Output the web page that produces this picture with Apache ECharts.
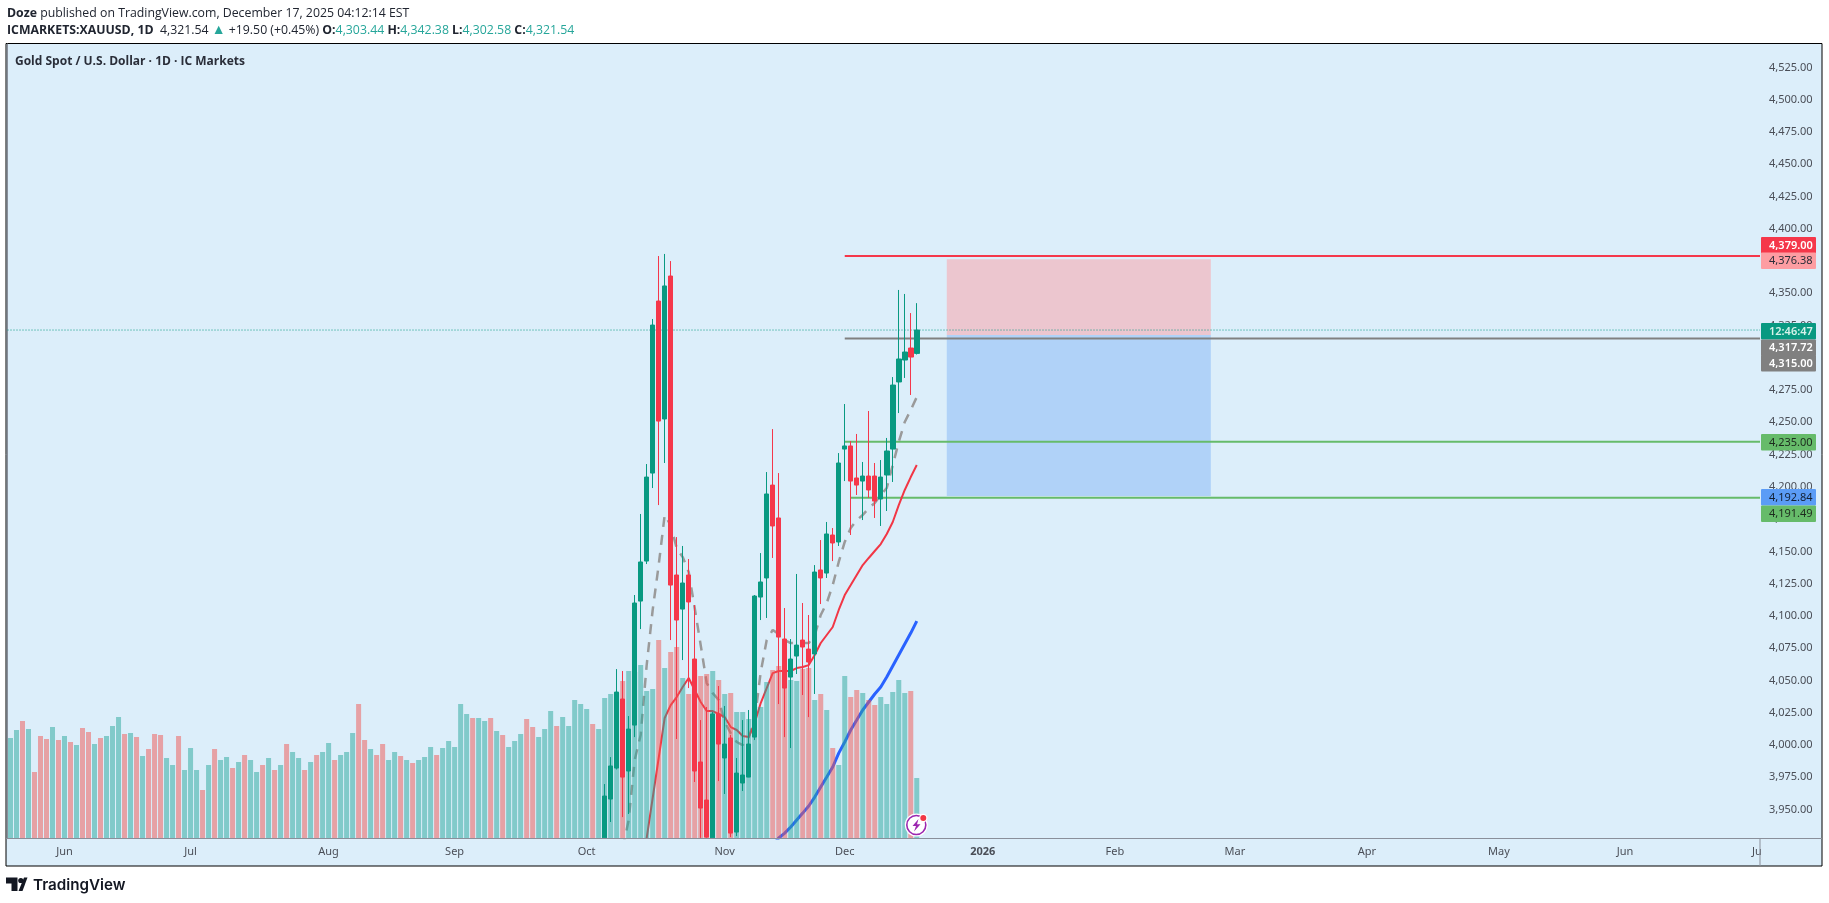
<!DOCTYPE html>
<html><head><meta charset="utf-8">
<style>html,body{margin:0;padding:0;background:#fff}#c{width:1829px;height:903px}</style>
<script src="https://cdn.jsdelivr.net/npm/echarts@6/dist/echarts.min.js"></script>
</head><body><div id="c"></div>
<script>
// ---------- data ----------
const firstSession = '2025-05-20';
const sessionCount = 292;
const monthTickIndex = [9,30,53,74,96,119,139,162,184,204,226,248,269,291];
const monthTickLabels = ['Jun','Jul','Aug','Sep','Oct','Nov','Dec','2026','Feb','Mar','Apr','May','Jun','Ju'];
const priceTicks = [4525,4500,4475,4450,4425,4400,4375,4350,4325,4300,4275,4250,4225,4200,4175,4150,4125,4100,4075,4050,4025,4000,3975,3950];

const volumes = [100,108,117,109,66,102,99,111,98,102,96,93,110,106,94,100,102,112,121,104,105,101,82,89,104,103,80,73,102,68,
 90,68,48,73,89,78,81,70,76,83,78,66,73,80,68,73,94,86,80,68,76,83,86,95,78,83,86,105,134,98,
 89,83,94,78,86,82,78,75,78,81,91,83,90,97,91,134,124,120,120,117,120,107,103,91,97,104,119,111,101,109,
 127,112,121,112,138,134,129,114,109,140,144,145,157,167,166,173,147,149,198,170,186,191,160,144,168,162,164,167,158,144,
 145,126,126,119,131,131,156,168,172,168,158,157,169,170,138,144,128,90,73,162,141,148,145,138,133,141,134,146,158,145,147,60];
const volumeSides = 'TTPTPPPTPTPTPPTPTTTPTPTPPPTTPTTTPTPTTPTPTTPTPTPTTPTPTTPTTTPPTPPTTPTPTTTPTTTTTPTTPTPTTTPPTTTPTTTTTPTTTTPTTTTTPTPPTPPPPTPTPTTTTTTPPPTTPPTPTPTTPPTPPTTTTTPT'.split('');

const candleFirstIndex = 99;
// open, close, low, high
const candles = [
[3928,3960.4,3928,3969.7],[3958.1,3983.7,3940.3,3990.6],[3982.1,4041,3981,4058.8],[4035.6,3975.1,3944.1,4057.3],
[3979.8,4012.3,3946.5,4022.4],[4015.4,4110,4006.1,4116.2],[4111.5,4141.8,4089.8,4179],[4142.5,4207.6,4140.2,4217.7],
[4210.7,4325.4,4199.1,4330.1],[4344,4251,4185.9,4378.9],[4252.6,4355.7,4218.5,4380.5],[4363.4,4123.9,4081.3,4375],
[4131.7,4096.8,4004.6,4161.1],[4105.3,4125.5,4065.8,4154.2],[4131.7,4110.8,4044.1,4144.1],[4066.6,3979.8,3971.3,4108.4],
[3986.8,3951.1,3928,4019.3],[3957.3,3928.6,3928,4029.4],[3928,4024,3928,4025.5],[4024,4000.7,3972,4045.7],
[3989.9,4000.7,3962,4030.2],[4005.4,3931.7,3928.6,4007.7],[3932.5,3978.2,3929.4,3989.9],[3970.5,3976.7,3964.3,4019.3],
[3975.1,4000.7,3975,4027.1],[4006.1,4115.4,4003.8,4116.2],[4114.6,4126.3,4096.8,4148.7],[4129.4,4194.5,4098.4,4211.5],
[4201.4,4169.7,4144.9,4244.8],[4175.9,4083.6,4031.7,4210.7],[4082.1,4044.1,4006.1,4106.1],[4052.6,4066.6,3997.6,4082.1],
[4068.9,4077.4,4055,4132.5],[4081.3,4075.9,4038.7,4110],[4074.3,4064.3,4021.6,4100.7],[4070.5,4134,4039.5,4139.4],
[4135.6,4129.4,4109.2,4158.8],[4133.2,4163.5,4129.4,4172.8],[4162.7,4156.5,4142.5,4168.1],[4157.3,4218.5,4154.2,4226.2],
[4229.3,4231.7,4204.5,4264.2],[4231.7,4204.5,4162.7,4235.5],[4206.9,4201.4,4193.7,4241],[4204.5,4208.4,4174.3,4219.3],
[4208.4,4197.6,4191.4,4258.8],[4208.4,4189,4175.9,4218.5],[4190.6,4207.6,4169.7,4220.8],[4209.2,4227.8,4181.3,4237.9],
[4229.3,4278.9,4203.8,4285.1],[4281.3,4299.1,4257.2,4352.6],[4298.3,4304.5,4284.4,4349.5],[4307.6,4300.6,4271.2,4334.7],
[4303.44,4321.54,4302.58,4342.38]];

const redMaFirstIndex = 105;
const redMa = [3897,3927.9,3958.9,3989.9,4020.9,4030.9,4037.1,4044.9,4051.9,4042.6,4033.3,4026.3,4026.3,4024,4021.6,4013.9,4011.6,
 4006.9,4006.1,4017,4032.5,4044.1,4055.7,4057.3,4057.3,4057.3,4059.6,4060.4,4061.9,4069.7,4079,4085.2,4091.4,4104.6,4116.2,4123.9,
 4131.7,4139.4,4144.9,4150.3,4155.7,4163.5,4172.8,4185.9,4197.6,4207.6,4216.9];
const blueMaFirstIndex = 127;
const blueMa = [3922,3927.9,3931.7,3936.4,3941.8,3947.2,3952.7,3959.6,3967.4,3975.1,3982.9,3993.7,4002.3,4011.6,4019.3,4027.1,4033.3,
 4039.5,4044.9,4052.6,4061.2,4069.7,4078.2,4086.7,4096];
const grayMaFirstIndex = 102;
const grayMa = [3920.1,3941.8,3988.3,4007.7,4061.9,4104.6,4139.4,4178.2,4170.4,4152.6,4145.6,4134,4106.1,4077.4,4048,4040.2,4034.8,
 4017.8,4009.2,4002.3,3999.9,4006.1,4019.3,4056.5,4081.3,4089.1,4086,4081.3,4079,4079,4079,4079,4085.2,4100.7,4110,4123.9,4141.8,
 4157.3,4168.1,4174.3,4178.2,4183.6,4187.5,4193.7,4199.1,4216.9,4234.8,4250.3,4259.6,4269.6];

const lastPrice = 4321.54;
const stopLevel = 4379.00;
const entryLevel = 4315.00;
const target1Level = 4235.00;
const target2Level = 4191.49;
const positionTop = 4376.38, positionEntry = 4317.72, positionBottom = 4192.84;
const positionStartIndex = 156, positionEndIndex = 200;
const levelStartIndex = 139, level2StartIndex = 140;

const headline = 'Doze';
const headlineRest = ' published on TradingView.com, December 17, 2025 04:12:14 EST';
const symbolLine = 'ICMARKETS:XAUUSD, 1D';
const chartTitle = 'Gold Spot / U.S. Dollar · 1D · IC Markets';
const tagTexts = ['4,379.00','4,376.38','12:46:47','4,317.72','4,315.00','4,235.00','4,192.84','4,191.49'];

// ---------- styles / layout ----------
const UP='#089981', DOWN='#f5374a', BG='#dceefa', AXIS='#8a8f9a';
const FONT='"Noto Sans", sans-serif', HEAD='"Open Sans", sans-serif';
const HS=12.3;
const gridLeft=7.5, gridRight=1760, gridTop=44, gridBottom=838, frameRight=1822, frameBottom=866, frameLeft=6;
const priceMin=3927.9, priceMax=4543.2;
const tagStyle=[
 {top:237,fill:DOWN,color:'#fff',bold:true},
 {top:252.5,fill:'#fd9da2',color:'#2a2e39'},
 {top:323,fill:UP,color:'#d7f2ea',bold:true},
 {top:339.5,fill:'#808080',color:'#fff',bold:true},
 {top:355,fill:'#808080',color:'#fff',bold:true},
 {top:434,fill:'#66bb6a',color:'#1d2b1e'},
 {top:489,fill:'#5b9cf6',color:'#132033'},
 {top:505.5,fill:'#66bb6a',color:'#1d2b1e'}];

// ---------- build ----------
const categories=[];
{ let d=new Date(firstSession+'T00:00:00Z');
  while(categories.length<sessionCount){
    const w=d.getUTCDay();
    if(w!==0&&w!==6) categories.push(d.toISOString().slice(0,10));
    d=new Date(d.getTime()+86400000);
  } }
const monthByCategory={};
monthTickIndex.forEach((k,i)=>{monthByCategory[categories[k]]=monthTickLabels[i];});
const pad=(first,arr)=>new Array(first).fill('-').concat(arr);
const band=k=>k+0.5;
const hLine=(name,y,from,color,width,type)=>({
  type:'line',name,xAxisIndex:1,yAxisIndex:0,z:1,symbol:'none',silent:true,animation:false,
  data:[[from,y],[sessionCount,y]],lineStyle:{color,width,type:type||'solid'}});
const fmt=v=>v.toLocaleString('en-US',{minimumFractionDigits:2,maximumFractionDigits:2});

const graphic=[
 {type:'rect',z:-10,shape:{x:frameLeft,y:gridTop-0.5,width:frameRight-frameLeft,height:frameBottom-gridTop+0.5},style:{fill:BG,stroke:'#000',lineWidth:1}},
 {type:'line',z:5,shape:{x1:gridRight,y1:gridBottom,x2:gridRight,y2:frameBottom},style:{stroke:AXIS,lineWidth:1}},
 {type:'line',z:5,shape:{x1:frameLeft,y1:gridBottom+0.5,x2:frameRight,y2:gridBottom+0.5},style:{stroke:AXIS,lineWidth:1}},
];
tagTexts.forEach((t,i)=>{const s=tagStyle[i];
 graphic.push({type:'rect',z:100,shape:{x:1761,y:s.top,width:55,height:16.5,r:1},style:{fill:s.fill}});
 graphic.push({type:'text',z:101,x:1769,y:s.top+8.5,style:{text:t,fill:s.color,font:(s.bold?'600 ':'')+'11px '+FONT,textVerticalAlign:'middle',textAlign:'left'}});
});
// bolt badge
graphic.push({type:'circle',z:110,shape:{cx:916.3,cy:825,r:11.5},style:{fill:'#fff'}});
graphic.push({type:'circle',z:111,shape:{cx:916.3,cy:825,r:9.5},style:{fill:'#fff',stroke:'#9c27b0',lineWidth:1.6}});
graphic.push({type:'polygon',z:112,shape:{points:[[918.5,819],[912.5,826],[916,826],[914,831.5],[920.5,824.2],[917,824.2]]},style:{fill:'#9c27b0'}});
graphic.push({type:'circle',z:113,shape:{cx:923.3,cy:818,r:3.6},style:{fill:'#f23645',stroke:'#fff',lineWidth:1.2}});
// logo
graphic.push({type:'polygon',z:20,shape:{points:[[6,877.5],[17.5,877.5],[17.5,891],[11.5,891],[11.5,883.5],[6,883.5]]},style:{fill:'#131722'}});
graphic.push({type:'circle',z:20,shape:{cx:20.8,cy:880.5,r:2.6},style:{fill:'#131722'}});
graphic.push({type:'polygon',z:20,shape:{points:[[24,877.5],[27.5,877.5],[22.5,891],[18.5,891]]},style:{fill:'#131722'}});
graphic.push({type:'text',z:20,x:33,y:885,style:{text:'TradingView',fill:'#131722',font:'600 15.2px Inter, sans-serif',textVerticalAlign:'middle'}});

const boldRich={fontWeight:'bold',fontSize:HS,fontFamily:HEAD,color:'#202530'};
const option={
 animation:false,
 backgroundColor:'#fff',
 textStyle:{fontFamily:FONT},
 title:[
  {left:7,top:7,padding:0,text:'{b|'+headline+'}'+headlineRest,textStyle:{fontSize:HS,fontWeight:'normal',fontFamily:HEAD,color:'#202530',rich:{b:boldRich}}},
  {left:7,top:23,padding:0,text:'{b|'+symbolLine+'}  4,321.54 {g|▲} +19.50 (+0.45%) {b|O:}{v|4,303.44} {b|H:}{v|4,342.38} {b|L:}{v|4,302.58} {b|C:}{v|4,321.54}',
   textStyle:{fontSize:HS,fontWeight:'normal',fontFamily:HEAD,color:'#202530',rich:{b:boldRich,v:{fontSize:HS,fontFamily:HEAD,color:'#26a69a'},g:{fontSize:14,fontFamily:FONT,color:'#26a69a'}}}},
  {left:15,top:56,padding:0,text:chartTitle,textStyle:{fontSize:12,fontWeight:'bold',fontFamily:HEAD,color:'#2a2e39'}}
 ],
 grid:{left:gridLeft,top:gridTop,width:gridRight-gridLeft,height:gridBottom-gridTop,containLabel:false},
 graphic,
 xAxis:[
  {type:'category',data:categories,boundaryGap:true,
   axisLine:{show:false},axisTick:{show:false},splitLine:{show:false},
   axisLabel:{margin:8,fontSize:11,fontFamily:FONT,color:'#4a4e57',
    interval:(i,v)=>monthByCategory[v]!==undefined,
    formatter:v=>{const t=monthByCategory[v]; if(t===undefined) return ''; return t==='2026'?'{y|2026}':t;},
    rich:{y:{fontWeight:'bold',fontSize:11,fontFamily:FONT,color:'#4a4e57'}}}},
  {type:'value',min:0,max:sessionCount,show:false,splitLine:{show:false}}
 ],
 yAxis:[
  {type:'value',position:'right',min:priceMin,max:priceMax,scale:true,
   axisLine:{show:true,lineStyle:{color:AXIS,width:1}},axisTick:{show:false},splitLine:{show:false},
   axisLabel:{customValues:priceTicks,margin:9,fontSize:11,fontFamily:FONT,color:'#4a4e57',align:'left',formatter:fmt}},
  {type:'value',min:0,max:gridBottom-gridTop,show:false,splitLine:{show:false}}
 ],
 series:[
  Object.assign(hLine('Last price',lastPrice,0,UP,1,[1,2]),{
   markArea:{silent:true,animation:false,data:[
    [{coord:[band(positionStartIndex),positionTop],itemStyle:{color:'#ecc6cf'}},{coord:[band(positionEndIndex),positionEntry]}],
    [{coord:[band(positionStartIndex),positionEntry],itemStyle:{color:'#b0d2f8'}},{coord:[band(positionEndIndex),positionBottom]}]
   ]}}),
  hLine('Stop',stopLevel,band(levelStartIndex),DOWN,2),
  hLine('Entry',entryLevel,band(levelStartIndex),'#808080',2),
  hLine('Target 1',target1Level,band(levelStartIndex),'#66bb6a',2),
  hLine('Target 2',target2Level,band(level2StartIndex),'#66bb6a',2),
  {type:'line',name:'Gray MA',z:1,symbol:'none',silent:true,data:pad(grayMaFirstIndex,grayMa),lineStyle:{color:'#9a9a9a',width:2.5,type:[10,8]}},
  {type:'line',name:'Red MA',z:1,symbol:'none',silent:true,data:pad(redMaFirstIndex,redMa),lineStyle:{color:'#f23645',width:2}},
  {type:'line',name:'Blue MA',z:1,symbol:'none',silent:true,data:pad(blueMaFirstIndex,blueMa),lineStyle:{color:'#2962ff',width:3}},
  {type:'bar',name:'Volume',yAxisIndex:1,z:2,barWidth:5,silent:true,
   data:volumes.map((v,i)=>({value:v,itemStyle:{color:volumeSides[i]==='T'?'#26a69a':'#ef5350',opacity:0.5}}))},
  {type:'candlestick',name:'XAUUSD',z:3,barWidth:5,silent:true,clip:true,
   data:new Array(candleFirstIndex).fill(['-','-','-','-']).concat(candles),
   itemStyle:{color:UP,color0:DOWN,borderColor:UP,borderColor0:DOWN,borderWidth:1}}
 ]
};
echarts.init(document.getElementById('c')).setOption(option);
</script></body></html>
